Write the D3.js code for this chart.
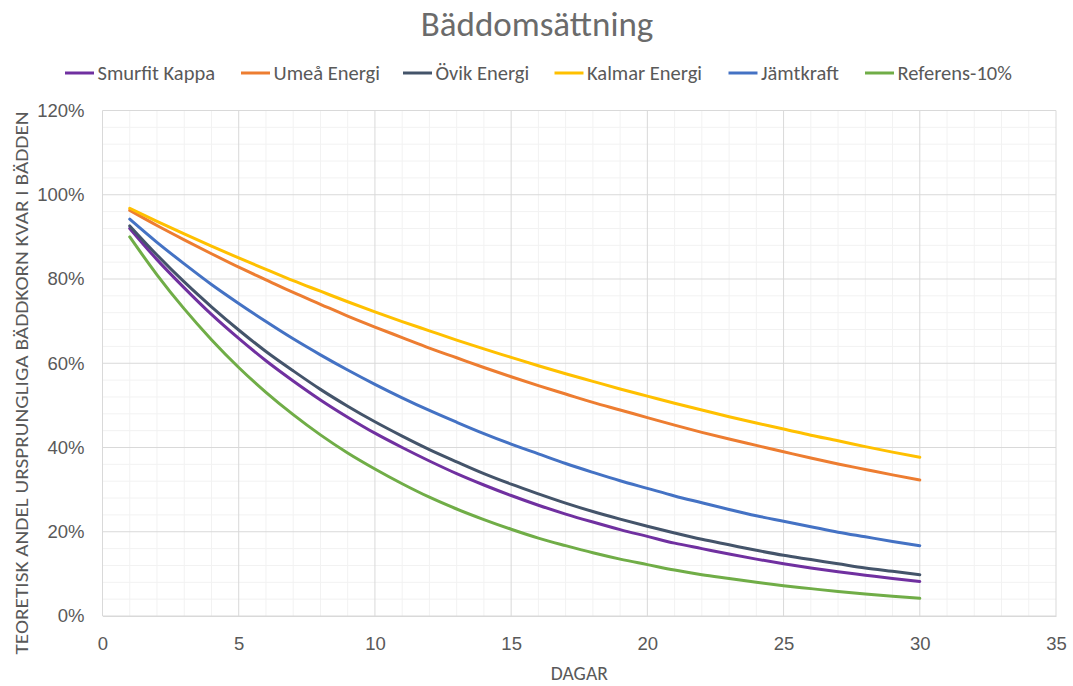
<!DOCTYPE html>
<html>
<head>
<meta charset="utf-8">
<script src="https://cdn.jsdelivr.net/npm/d3@7"></script>
<style>
  body { margin: 0; background: #fff; }
  svg { font-family: Carlito, Lato, "Open Sans", sans-serif; }
  .tick text { fill: #595959; font-size: 18.5px; }
</style>
</head>
<body>
<svg id="chart" width="1073" height="686"></svg>
<script>
// data
const days = d3.range(1, 31);
const smurfit = [0.920, 0.846, 0.779, 0.716, 0.659, 0.606, 0.558, 0.513, 0.472, 0.434,
  0.400, 0.368, 0.338, 0.311, 0.286, 0.263, 0.242, 0.223, 0.205, 0.189,
  0.173, 0.160, 0.147, 0.135, 0.124, 0.114, 0.105, 0.097, 0.089, 0.082];
const umea = [0.963, 0.927, 0.893, 0.860, 0.828, 0.798, 0.768, 0.740, 0.712, 0.686,
  0.661, 0.636, 0.613, 0.590, 0.568, 0.547, 0.527, 0.507, 0.489, 0.471,
  0.453, 0.436, 0.420, 0.405, 0.390, 0.375, 0.361, 0.348, 0.335, 0.323];
const ovik = [0.926, 0.857, 0.793, 0.734, 0.679, 0.628, 0.582, 0.538, 0.498, 0.461,
  0.427, 0.395, 0.366, 0.338, 0.313, 0.290, 0.268, 0.248, 0.230, 0.213,
  0.197, 0.182, 0.169, 0.156, 0.144, 0.134, 0.124, 0.114, 0.106, 0.098];
const kalmar = [0.968, 0.937, 0.907, 0.878, 0.850, 0.823, 0.796, 0.771, 0.746, 0.722,
  0.699, 0.677, 0.655, 0.634, 0.614, 0.594, 0.575, 0.557, 0.539, 0.522,
  0.505, 0.489, 0.473, 0.458, 0.444, 0.429, 0.416, 0.402, 0.389, 0.377];
const jamtkraft = [0.942, 0.887, 0.836, 0.787, 0.742, 0.699, 0.658, 0.620, 0.584, 0.550,
  0.518, 0.488, 0.460, 0.433, 0.408, 0.385, 0.362, 0.341, 0.321, 0.303,
  0.285, 0.269, 0.253, 0.238, 0.225, 0.212, 0.199, 0.188, 0.177, 0.167];
const referens = [0.900, 0.810, 0.729, 0.656, 0.590, 0.531, 0.478, 0.430, 0.387, 0.349,
  0.314, 0.282, 0.254, 0.229, 0.206, 0.185, 0.167, 0.150, 0.135, 0.122,
  0.109, 0.098, 0.089, 0.080, 0.072, 0.065, 0.058, 0.052, 0.047, 0.042];

const seriesNames = ['Smurfit Kappa', 'Umeå Energi', 'Övik Energi', 'Kalmar Energi', 'Jämtkraft', 'Referens-10%'];
const seriesValues = [smurfit, umea, ovik, kalmar, jamtkraft, referens];
const seriesColors = ['#7030A0', '#ED7D31', '#44546A', '#FFC000', '#4472C4', '#70AD47'];

const xTicks = [0, 5, 10, 15, 20, 25, 30, 35];
const yTicks = [0, 0.2, 0.4, 0.6, 0.8, 1.0, 1.2];

// layout
const plot = { left: 102.5, right: 1056, top: 110.5, bottom: 616 };
const svg = d3.select('#chart');

const x = d3.scaleLinear().domain([0, 35]).range([plot.left, plot.right]);
const y = d3.scaleLinear().domain([0, 1.2]).range([plot.bottom, plot.top]);

// minor gridlines
svg.append('g')
  .selectAll('line')
  .data(d3.range(0, 36).filter(d => d % 5 !== 0))
  .enter().append('line')
  .attr('x1', d => x(d)).attr('x2', d => x(d))
  .attr('y1', plot.top).attr('y2', plot.bottom)
  .attr('stroke', '#F2F2F2');
svg.append('g')
  .selectAll('line')
  .data(d3.range(0, 31).filter(d => d % 5 !== 0).map(d => d * 0.04))
  .enter().append('line')
  .attr('x1', plot.left).attr('x2', plot.right)
  .attr('y1', d => y(d)).attr('y2', d => y(d))
  .attr('stroke', '#F2F2F2');

// major gridlines
svg.append('g')
  .selectAll('line')
  .data(xTicks)
  .enter().append('line')
  .attr('x1', d => x(d)).attr('x2', d => x(d))
  .attr('y1', plot.top).attr('y2', plot.bottom)
  .attr('stroke', '#D9D9D9');
svg.append('g')
  .selectAll('line')
  .data(yTicks)
  .enter().append('line')
  .attr('x1', plot.left).attr('x2', plot.right)
  .attr('y1', d => y(d)).attr('y2', d => y(d))
  .attr('stroke', '#D9D9D9');

// axes
const xAxis = svg.append('g')
  .attr('transform', `translate(0,${plot.bottom})`)
  .call(d3.axisBottom(x).tickValues(xTicks).tickSize(0).tickPadding(21));
xAxis.select('.domain').attr('stroke', '#D9D9D9');

const yAxis = svg.append('g')
  .attr('transform', `translate(${plot.left},0)`)
  .call(d3.axisLeft(y).tickValues(yTicks).tickSize(0).tickPadding(18)
    .tickFormat(d => Math.round(d * 100) + '%'));
yAxis.select('.domain').remove();
svg.selectAll('.tick text').attr('font-family', null).attr('font-size', null);

// lines
const line = d3.line()
  .x((d, i) => x(days[i]))
  .y(d => y(d))
  .curve(d3.curveMonotoneX);

svg.append('g')
  .selectAll('path')
  .data(seriesValues)
  .enter().append('path')
  .attr('d', line)
  .attr('fill', 'none')
  .attr('stroke', (d, i) => seriesColors[i])
  .attr('stroke-width', 3)
  .attr('stroke-linecap', 'round');

// title
svg.append('text')
  .attr('x', 537).attr('y', 36)
  .attr('text-anchor', 'middle')
  .attr('fill', '#6b6b6b')
  .attr('font-size', 35)
  .attr('font-weight', 300)
  .text('Bäddomsättning');

// axis titles
svg.append('text')
  .attr('x', (plot.left + plot.right) / 2).attr('y', 680)
  .attr('text-anchor', 'middle')
  .attr('fill', '#595959')
  .attr('font-size', 19.5)
  .text('DAGAR');

svg.append('text')
  .attr('transform', `translate(28,383) rotate(-90)`)
  .attr('text-anchor', 'middle')
  .attr('fill', '#595959')
  .attr('font-size', 19)
  .attr('textLength', 543)
  .attr('lengthAdjust', 'spacingAndGlyphs')
  .text('TEORETISK ANDEL URSPRUNGLIGA BÄDDKORN KVAR I BÄDDEN');

// legend
const legendX = [65, 241, 403, 554.5, 728.5, 865];
const legend = svg.append('g')
  .selectAll('g')
  .data(seriesNames)
  .enter().append('g')
  .attr('transform', (d, i) => `translate(${legendX[i]},73)`);
legend.append('line')
  .attr('x1', 0).attr('x2', 29)
  .attr('stroke', (d, i) => seriesColors[i])
  .attr('stroke-width', 3);
legend.append('text')
  .attr('x', 32.5).attr('y', 7)
  .attr('fill', '#595959')
  .attr('font-size', 20.5)
  .text(d => d);
</script>
</body>
</html>
